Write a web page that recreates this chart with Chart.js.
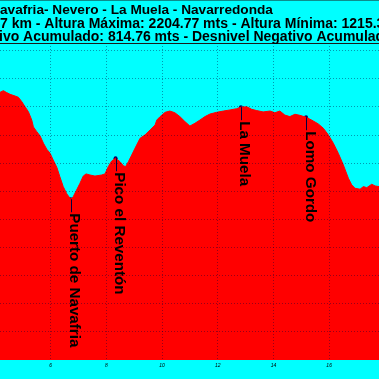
<!DOCTYPE html>
<html>
<head>
<meta charset="utf-8">
<script src="https://cdn.jsdelivr.net/npm/chart.js@4/dist/chart.umd.min.js"></script>
<style>
  body { margin: 0; background: #00ffff; overflow: hidden; }
  #perfil { display: block; }
</style>
</head>
<body>
<canvas id="perfil" width="379" height="379"></canvas>
<script>
  // textos de cabecera (lo que se ve del recorte)
  const tituloLineas = [
    "avafria- Nevero - La Muela - Navarredonda",
    "7 km - Altura Máxima: 2204.77 mts - Altura Mínima: 1215.3",
    "ivo Acumulado: 814.76 mts - Desnivel Negativo Acumulado"
  ];

  // perfil: distancia (km) y altura (m)
  const distanciaKm = [
    4.18, 4.30, 4.42, 4.54, 4.72, 4.84, 4.96, 5.08, 5.20, 5.32,
    5.38, 5.50, 5.62, 5.74, 5.86, 5.98, 6.09, 6.22, 6.33, 6.45,
    6.58, 6.72, 6.81, 6.93, 7.05, 7.17, 7.27, 7.41, 7.59, 7.83,
    7.95, 8.07, 8.19, 8.33, 8.49, 8.61, 8.69, 8.79, 8.91, 9.03,
    9.21, 9.39, 9.57, 9.75, 9.81, 9.93, 10.11, 10.28, 10.46, 10.64,
    10.82, 11.00, 11.18, 11.36, 11.54, 11.72, 11.96, 12.20, 12.44, 12.68,
    12.83, 13.04, 13.22, 13.40, 13.63, 13.88, 14.05, 14.23, 14.41, 14.59,
    14.77, 14.95, 15.17, 15.37, 15.61, 15.79, 15.97, 16.15, 16.33, 16.51,
    16.69, 16.81, 16.93, 17.11, 17.23, 17.35, 17.53, 17.65, 17.79
  ];
  const alturaM = [
    2271, 2279, 2270, 2262, 2254, 2248, 2228, 2204, 2181, 2142,
    2110, 2088, 2068, 2034, 2006, 1987, 1956, 1922, 1878, 1832,
    1798, 1773, 1785, 1816, 1847, 1881, 1891, 1886, 1881, 1886,
    1891, 1925, 1951, 1964, 1948, 1929, 1925, 1948, 1979, 2011,
    2057, 2073, 2096, 2119, 2142, 2158, 2178, 2184, 2176, 2158,
    2135, 2114, 2127, 2142, 2158, 2170, 2178, 2184, 2189, 2195,
    2202, 2204, 2192, 2186, 2180, 2184, 2176, 2184, 2165, 2158,
    2169, 2164, 2155, 2142, 2124, 2104, 2073, 2034, 1987, 1933,
    1871, 1840, 1824, 1820, 1832, 1827, 1843, 1835, 1832
  ];

  // puntos de paso con nombre
  const puntosNombre = ["Puerto de Navafria", "Pico el Reventón", "La Muela", "Lomo Gordo"];
  const puntosKm = [6.72, 8.33, 12.83, 15.17];
  const puntosAltura = [1773, 1964, 2202, 2155];

  const ticksKm = [6, 8, 10, 12, 14, 16];
  const ticksAltura = [1155, 1286, 1417, 1548, 1679, 1810, 1941, 2072, 2203, 2334, 2465];

  const rotulos = {
    id: 'rotulos',
    afterDraw(chart) {
      const ctx = chart.ctx;
      const area = chart.chartArea;
      const x = chart.scales.x;
      const y = chart.scales.y;
      ctx.save();

      // linea superior del marco
      ctx.strokeStyle = '#1a1a1a';
      ctx.lineWidth = 1;
      ctx.beginPath();
      ctx.moveTo(area.left, area.top + 0.5);
      ctx.lineTo(area.right, area.top + 0.5);
      ctx.stroke();

      // cabecera
      ctx.fillStyle = '#000';
      ctx.textAlign = 'left';
      ctx.textBaseline = 'alphabetic';
      const tamTitulo = [13.65, 14, 14];
      const inicioX = [0, 0, -1];
      tituloLineas.forEach((t, i) => {
        ctx.font = 'bold ' + tamTitulo[i] + 'px "Liberation Sans", Arial, sans-serif';
        ctx.fillText(t, inicioX[i], 14 + i * 13.5);
      });

      // nombres de los puntos, en vertical
      ctx.font = 'bold 15.2px "Liberation Sans", Arial, sans-serif';
      for (let i = 0; i < puntosNombre.length; i++) {
        const px = x.getPixelForValue(puntosKm[i]);
        const py = y.getPixelForValue(puntosAltura[i]);
        ctx.strokeStyle = '#000040';
        ctx.beginPath();
        ctx.moveTo(Math.round(px) + 0.5, py);
        ctx.lineTo(Math.round(px) + 0.5, py + 13);
        ctx.stroke();
        ctx.save();
        ctx.translate(px - 0.5, py + 14);
        ctx.rotate(Math.PI / 2);
        ctx.fillText(puntosNombre[i], 0, 0);
        ctx.restore();
      }
      ctx.restore();
    }
  };

  const rejilla = {
    color: 'rgba(0, 0, 60, 0.4)',
    lineWidth: 1,
    z: 1,
    drawTicks: false
  };

  const ctx = document.getElementById('perfil').getContext('2d');
  const perfil = new Chart(ctx, {
    type: 'line',
    data: {
      datasets: [
        {
          data: distanciaKm.map((d, i) => ({ x: d, y: alturaM[i] })),
          borderColor: '#ff0000',
          backgroundColor: '#ff0000',
          borderWidth: 1,
          pointRadius: 0,
          fill: 'start',
          tension: 0
        },
        {
          data: puntosKm.map((d, i) => ({ x: d, y: puntosAltura[i] })),
          showLine: false,
          pointRadius: 2,
          pointBackgroundColor: '#000066',
          pointBorderColor: '#000066',
          pointBorderWidth: 0
        }
      ]
    },
    options: {
      responsive: false,
      animation: false,
      layout: { autoPadding: false, padding: { top: 43, left: 0, right: 0, bottom: 0 } },
      plugins: {
        legend: { display: false },
        tooltip: { enabled: false },
        title: { display: false }
      },
      scales: {
        x: {
          type: 'linear',
          min: 4.18,
          max: 17.79,
          afterBuildTicks: (s) => { s.ticks = ticksKm.map(v => ({ value: v })); },
          afterFit: (s) => { s.height = 19; },
          grid: rejilla,
          border: { display: true, color: '#1a1a1a', width: 1, dash: [1, 2] },
          ticks: {
            color: '#000',
            font: { size: 5, family: 'Arial', style: 'italic' },
            padding: 3,
            maxRotation: 0
          }
        },
        y: {
          min: 1024,
          max: 2501,
          afterBuildTicks: (s) => { s.ticks = ticksAltura.map(v => ({ value: v })); },
          afterFit: (s) => { s.width = 0; },
          grid: rejilla,
          border: { display: false, dash: [1, 2] },
          ticks: { display: false }
        }
      }
    },
    plugins: [rotulos]
  });
</script>
</body>
</html>
